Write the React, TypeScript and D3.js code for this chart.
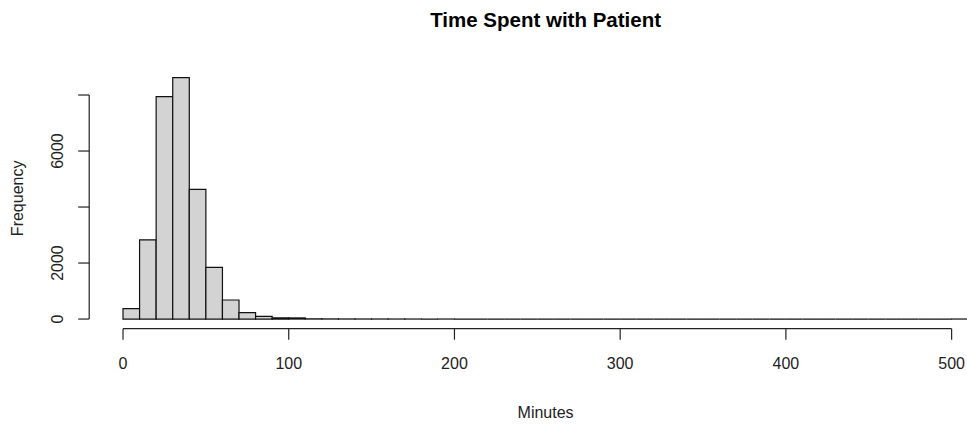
import React from "react";
import * as d3 from "d3";

const title = "Time Spent with Patient";
const xLabel = "Minutes";
const yLabel = "Frequency";
const binWidth = 10;
// counts for bins [0,10), [10,20), ... up to 510
const counts = [
  370, 2830, 7940, 8620, 4630, 1845, 680, 226, 95, 45, 40,
  8, 5, 3, 2, 2, 1, 1, 0, 1, 0, 0, 0, 0, 0, 0, 0, 0, 0, 0, 0, 0, 0, 0, 0, 0, 0, 0, 0, 0,
  0, 0, 0, 0, 0, 0, 0, 0, 0, 0, 1,
];
const xTicks = [0, 100, 200, 300, 400, 500];
const yTicks = [0, 2000, 4000, 6000, 8000];
const yTickLabels = ["0", "2000", "", "6000", ""];

export default function App() {
  const W = 967, H = 425;
  const plotLeft = 89.2, plotRight = 1002, plotTop = 68, plotBottom = 328.7;
  const xMax = counts.length * binWidth;
  const yMax = d3.max(counts) as number;
  const x = d3.scaleLinear().domain([-0.04 * xMax, 1.04 * xMax]).range([plotLeft, plotRight]);
  const y = d3.scaleLinear().domain([-0.04 * yMax, 1.04 * yMax]).range([plotBottom, plotTop]);
  const font = "'Liberation Sans', Arial, sans-serif";
  const axisColor = "#222";
  const cx = (plotLeft + plotRight) / 2;
  const cy = (plotTop + plotBottom) / 2;
  return (
    <svg width={W} height={H} style={{ position: "absolute", left: 0, top: 0, background: "#fff" }} fontFamily={font}>
      <text x={cx} y={27} textAnchor="middle" fontSize={20.5} fontWeight="bold" fill="#000">{title}</text>
      {counts.map((c, i) => {
        const x0 = x(i * binWidth), x1 = x((i + 1) * binWidth);
        const y0 = y(0), y1 = y(c);
        return (
          <path key={i} d={`M${x0},${y0}H${x1}V${y1}H${x0}Z`}
            fill="#d3d3d3" stroke="#111" strokeWidth={1.2} />
        );
      })}
      {/* x axis */}
      <line x1={x(xTicks[0])} x2={x(xTicks[xTicks.length - 1])} y1={plotBottom} y2={plotBottom} stroke={axisColor} strokeWidth={1.2} />
      {xTicks.map((t) => (
        <g key={t}>
          <line x1={x(t)} x2={x(t)} y1={plotBottom} y2={plotBottom + 11} stroke={axisColor} strokeWidth={1.2} />
          <text x={x(t)} y={369} textAnchor="middle" fontSize={16} fill="#222">{t}</text>
        </g>
      ))}
      {/* y axis */}
      <line x1={plotLeft} x2={plotLeft} y1={y(yTicks[0])} y2={y(yTicks[yTicks.length - 1])} stroke={axisColor} strokeWidth={1.2} />
      {yTicks.map((t, i) => (
        <g key={t}>
          <line x1={plotLeft} x2={plotLeft - 11} y1={y(t)} y2={y(t)} stroke={axisColor} strokeWidth={1.2} />
          {yTickLabels[i] && (
            <text transform={`translate(63,${y(t)}) rotate(-90)`} textAnchor="middle" fontSize={16} fill="#222">{yTickLabels[i]}</text>
          )}
        </g>
      ))}
      <text transform={`translate(23,${cy}) rotate(-90)`} textAnchor="middle" fontSize={16} fill="#222">{yLabel}</text>
      <text x={cx} y={418} textAnchor="middle" fontSize={16} fill="#222">{xLabel}</text>
    </svg>
  );
}
